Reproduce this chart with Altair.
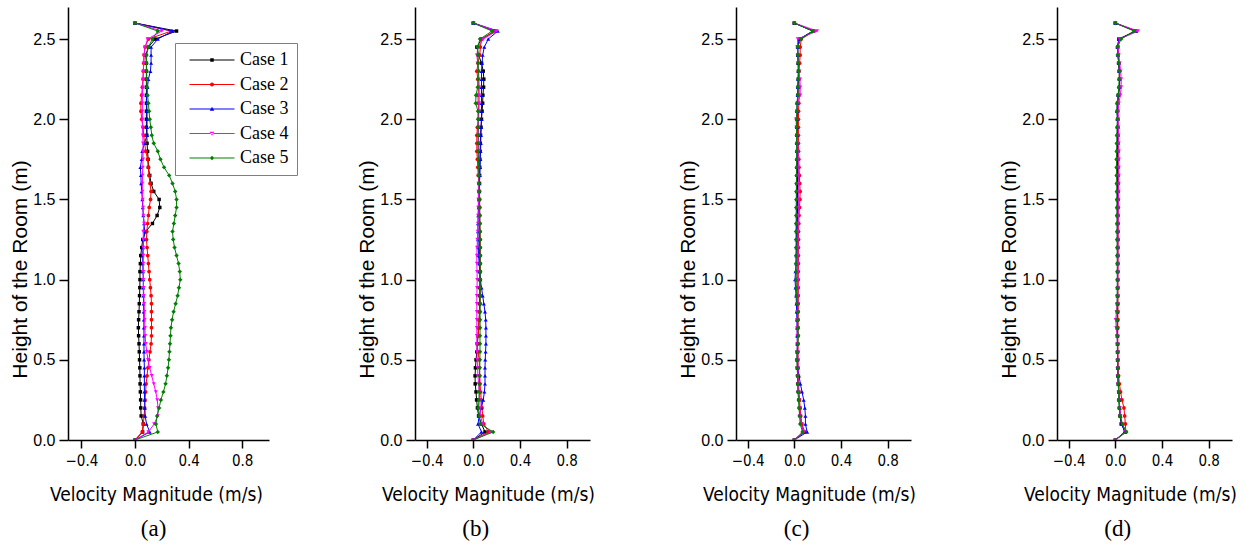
import altair as alt
import pandas as pd

HEIGHTS = [0.00, 0.05, 0.10, 0.15, 0.20, 0.25, 0.30, 0.35, 0.40, 0.45,
           0.50, 0.55, 0.60, 0.65, 0.70, 0.75, 0.80, 0.85, 0.90, 0.95,
           1.00, 1.05, 1.10, 1.15, 1.20, 1.25, 1.30, 1.35, 1.40, 1.45,
           1.50, 1.55, 1.60, 1.65, 1.70, 1.75, 1.80, 1.85, 1.90, 1.95,
           2.00, 2.05, 2.10, 2.15, 2.20, 2.25, 2.30, 2.35, 2.40, 2.45,
           2.50, 2.55, 2.60]

CASES = ["Case 1", "Case 2", "Case 3", "Case 4", "Case 5"]
COLORS = ["#000000", "#ff0000", "#0000ff", "#ff00ff", "#008000"]
SHAPES = ["square", "circle", "triangle-up", "triangle-down", "diamond"]
MARKER_SIZES = [12, 14, 16, 16, 20]
LINE_PATH = "M-4.5,-0.1H4.5V0.1H-4.5Z"
LEGEND_SYMBOLS = [
    LINE_PATH + "M-0.35,-0.35H0.35V0.35H-0.35Z",
    LINE_PATH + "M-0.4,0A0.4,0.4,0,1,1,0.4,0A0.4,0.4,0,1,1,-0.4,0Z",
    LINE_PATH + "M0,-0.45L0.45,0.35H-0.45Z",
    LINE_PATH + "M0,0.45L0.45,-0.35H-0.45Z",
    LINE_PATH + "M0,-0.45L0.45,0L0,0.45L-0.45,0Z",
]
X_TICKS = [-0.4, 0.0, 0.4, 0.8]
Y_TICKS = [0.0, 0.5, 1.0, 1.5, 2.0, 2.5]
PANEL_LABELS = ["(a)", "(b)", "(c)", "(d)"]

# ---------------- panel (a) ----------------
A1 = [0, 0.057, 0.062, 0.046, 0.043, 0.042, 0.040, 0.038, 0.037, 0.036,
      0.034, 0.032, 0.030, 0.027, 0.025, 0.027, 0.030, 0.032, 0.034, 0.036,
      0.037, 0.037, 0.040, 0.043, 0.050, 0.058, 0.080, 0.130, 0.165, 0.185,
      0.180, 0.140, 0.120, 0.110, 0.100, 0.098, 0.094, 0.090, 0.088, 0.085,
      0.085, 0.085, 0.085, 0.085, 0.085, 0.085, 0.085, 0.085, 0.080, 0.100,
      0.150, 0.310, 0]
A2 = [0, 0.054, 0.062, 0.068, 0.072, 0.075, 0.079, 0.083, 0.090, 0.096,
      0.104, 0.112, 0.120, 0.123, 0.123, 0.123, 0.123, 0.123, 0.120, 0.115,
      0.110, 0.105, 0.100, 0.095, 0.090, 0.086, 0.088, 0.094, 0.100, 0.106,
      0.116, 0.120, 0.112, 0.104, 0.100, 0.094, 0.080, 0.072, 0.065, 0.060,
      0.050, 0.044, 0.044, 0.050, 0.055, 0.060, 0.062, 0.065, 0.067, 0.075,
      0.100, 0.270, 0]
A3 = [0, 0.110, 0.086, 0.076, 0.074, 0.072, 0.070, 0.070, 0.070, 0.070,
      0.068, 0.067, 0.067, 0.067, 0.066, 0.066, 0.065, 0.064, 0.063, 0.062,
      0.062, 0.060, 0.058, 0.057, 0.060, 0.064, 0.072, 0.068, 0.062, 0.058,
      0.055, 0.050, 0.046, 0.044, 0.040, 0.050, 0.054, 0.070, 0.090, 0.090,
      0.090, 0.090, 0.088, 0.086, 0.093, 0.100, 0.115, 0.120, 0.120, 0.120,
      0.170, 0.280, 0]
A4 = [0, 0.100, 0.143, 0.170, 0.172, 0.166, 0.155, 0.140, 0.125, 0.110,
      0.097, 0.088, 0.080, 0.076, 0.074, 0.072, 0.070, 0.068, 0.066, 0.064,
      0.062, 0.062, 0.062, 0.062, 0.062, 0.062, 0.062, 0.068, 0.062, 0.060,
      0.057, 0.055, 0.055, 0.056, 0.058, 0.060, 0.060, 0.060, 0.058, 0.056,
      0.055, 0.055, 0.055, 0.055, 0.058, 0.060, 0.062, 0.065, 0.068, 0.075,
      0.094, 0.200, 0]
A5 = [0, 0.170, 0.156, 0.165, 0.180, 0.193, 0.212, 0.228, 0.238, 0.247,
      0.253, 0.257, 0.261, 0.265, 0.268, 0.277, 0.288, 0.303, 0.318, 0.328,
      0.338, 0.334, 0.325, 0.310, 0.295, 0.285, 0.280, 0.290, 0.300, 0.310,
      0.310, 0.300, 0.280, 0.255, 0.217, 0.190, 0.170, 0.140, 0.125, 0.118,
      0.110, 0.105, 0.100, 0.094, 0.090, 0.088, 0.087, 0.086, 0.086, 0.100,
      0.130, 0.170, 0]

# ---------------- panel (b) ----------------
B1 = [0, 0.100, 0.070, 0.045, 0.035, 0.028, 0.023, 0.016, 0.015, 0.018,
      0.023, 0.030, 0.035, 0.040, 0.045, 0.050, 0.052, 0.053, 0.055, 0.055,
      0.056, 0.056, 0.055, 0.054, 0.053, 0.052, 0.052, 0.052, 0.052, 0.052,
      0.052, 0.052, 0.053, 0.054, 0.055, 0.056, 0.058, 0.060, 0.062, 0.066,
      0.070, 0.075, 0.080, 0.082, 0.088, 0.090, 0.085, 0.070, 0.045, 0.030,
      0.070, 0.185, 0]
B2 = [0, 0.130, 0.090, 0.080, 0.075, 0.068, 0.062, 0.058, 0.055, 0.052,
      0.050, 0.040, 0.032, 0.040, 0.045, 0.050, 0.055, 0.058, 0.060, 0.060,
      0.060, 0.060, 0.060, 0.060, 0.060, 0.060, 0.058, 0.056, 0.055, 0.054,
      0.053, 0.050, 0.047, 0.042, 0.038, 0.035, 0.030, 0.030, 0.030, 0.035,
      0.045, 0.045, 0.042, 0.040, 0.045, 0.038, 0.030, 0.040, 0.055, 0.060,
      0.070, 0.185, 0]
B3 = [0, 0.070, 0.040, 0.050, 0.068, 0.085, 0.095, 0.100, 0.100, 0.100,
      0.102, 0.105, 0.108, 0.108, 0.108, 0.106, 0.100, 0.090, 0.080, 0.070,
      0.060, 0.055, 0.050, 0.045, 0.042, 0.040, 0.040, 0.040, 0.042, 0.045,
      0.048, 0.050, 0.052, 0.055, 0.058, 0.060, 0.062, 0.064, 0.065, 0.067,
      0.070, 0.070, 0.070, 0.070, 0.070, 0.070, 0.070, 0.075, 0.080, 0.094,
      0.128, 0.210, 0]
B4 = [0, 0.150, 0.080, 0.060, 0.058, 0.057, 0.050, 0.045, 0.040, 0.036,
      0.033, 0.032, 0.030, 0.030, 0.030, 0.030, 0.030, 0.030, 0.030, 0.032,
      0.033, 0.032, 0.030, 0.030, 0.032, 0.035, 0.038, 0.040, 0.041, 0.042,
      0.043, 0.043, 0.044, 0.044, 0.045, 0.045, 0.045, 0.045, 0.045, 0.045,
      0.045, 0.047, 0.050, 0.050, 0.050, 0.048, 0.045, 0.038, 0.030, 0.040,
      0.085, 0.200, 0]
B5 = [0, 0.170, 0.060, 0.050, 0.043, 0.048, 0.050, 0.052, 0.054, 0.055,
      0.056, 0.057, 0.057, 0.057, 0.058, 0.058, 0.058, 0.058, 0.058, 0.058,
      0.058, 0.058, 0.058, 0.058, 0.057, 0.057, 0.057, 0.056, 0.055, 0.054,
      0.053, 0.052, 0.050, 0.048, 0.046, 0.044, 0.040, 0.040, 0.040, 0.040,
      0.040, 0.040, 0.020, 0.023, 0.037, 0.040, 0.045, 0.040, 0.040, 0.037,
      0.057, 0.160, 0]

# ---------------- panel (c) ----------------
C1 = [0, 0.080, 0.060, 0.050, 0.045, 0.040, 0.035, 0.030, 0.028, 0.025,
      0.024, 0.025, 0.027, 0.028, 0.028, 0.027, 0.027, 0.026, 0.025, 0.024,
      0.023, 0.023, 0.024, 0.025, 0.025, 0.026, 0.026, 0.027, 0.027, 0.028,
      0.028, 0.028, 0.027, 0.027, 0.026, 0.026, 0.025, 0.025, 0.024, 0.024,
      0.024, 0.025, 0.027, 0.030, 0.032, 0.034, 0.035, 0.033, 0.030, 0.030,
      0.045, 0.160, 0]
C2 = [0, 0.090, 0.065, 0.055, 0.050, 0.045, 0.040, 0.037, 0.035, 0.033,
      0.032, 0.032, 0.032, 0.033, 0.033, 0.033, 0.034, 0.034, 0.034, 0.034,
      0.034, 0.034, 0.035, 0.035, 0.035, 0.036, 0.036, 0.038, 0.040, 0.044,
      0.048, 0.050, 0.046, 0.043, 0.040, 0.038, 0.036, 0.035, 0.035, 0.035,
      0.035, 0.036, 0.038, 0.040, 0.040, 0.040, 0.040, 0.045, 0.050, 0.050,
      0.060, 0.170, 0]
C3 = [0, 0.110, 0.095, 0.095, 0.090, 0.080, 0.066, 0.052, 0.040, 0.030,
      0.025, 0.025, 0.025, 0.024, 0.023, 0.022, 0.020, 0.018, 0.015, 0.010,
      0.006, 0.010, 0.015, 0.016, 0.018, 0.018, 0.019, 0.019, 0.020, 0.020,
      0.020, 0.020, 0.021, 0.021, 0.021, 0.022, 0.022, 0.022, 0.022, 0.022,
      0.022, 0.023, 0.025, 0.028, 0.030, 0.033, 0.035, 0.033, 0.030, 0.028,
      0.040, 0.160, 0]
C4 = [0, 0.080, 0.060, 0.050, 0.045, 0.040, 0.035, 0.033, 0.032, 0.031,
      0.030, 0.029, 0.028, 0.027, 0.025, 0.025, 0.028, 0.029, 0.030, 0.030,
      0.030, 0.030, 0.030, 0.030, 0.030, 0.030, 0.030, 0.032, 0.034, 0.036,
      0.037, 0.037, 0.036, 0.036, 0.035, 0.034, 0.032, 0.028, 0.022, 0.018,
      0.015, 0.022, 0.030, 0.050, 0.050, 0.048, 0.040, 0.035, 0.030, 0.025,
      0.030, 0.194, 0]
C5 = [0, 0.070, 0.050, 0.045, 0.040, 0.037, 0.030, 0.030, 0.028, 0.026,
      0.023, 0.025, 0.030, 0.033, 0.030, 0.028, 0.030, 0.025, 0.020, 0.016,
      0.014, 0.014, 0.014, 0.015, 0.015, 0.015, 0.014, 0.015, 0.016, 0.016,
      0.017, 0.017, 0.018, 0.019, 0.020, 0.021, 0.022, 0.021, 0.020, 0.020,
      0.020, 0.022, 0.023, 0.030, 0.030, 0.033, 0.037, 0.035, 0.030, 0.028,
      0.057, 0.157, 0]

# ---------------- panel (d) ----------------
D1 = [0, 0.085, 0.050, 0.040, 0.035, 0.032, 0.030, 0.025, 0.022, 0.021,
      0.020, 0.020, 0.019, 0.018, 0.018, 0.018, 0.019, 0.020, 0.020, 0.020,
      0.020, 0.020, 0.020, 0.020, 0.020, 0.020, 0.020, 0.019, 0.019, 0.019,
      0.019, 0.019, 0.018, 0.018, 0.018, 0.019, 0.019, 0.020, 0.020, 0.020,
      0.020, 0.018, 0.020, 0.025, 0.035, 0.035, 0.033, 0.028, 0.025, 0.020,
      0.030, 0.170, 0]
D2 = [0, 0.090, 0.086, 0.080, 0.074, 0.057, 0.045, 0.035, 0.028, 0.025,
      0.023, 0.022, 0.022, 0.021, 0.021, 0.022, 0.022, 0.022, 0.022, 0.022,
      0.022, 0.022, 0.022, 0.023, 0.023, 0.024, 0.024, 0.025, 0.025, 0.026,
      0.026, 0.026, 0.026, 0.026, 0.025, 0.025, 0.025, 0.024, 0.024, 0.023,
      0.022, 0.020, 0.022, 0.028, 0.036, 0.038, 0.035, 0.030, 0.025, 0.020,
      0.035, 0.180, 0]
D3 = [0, 0.080, 0.055, 0.045, 0.038, 0.033, 0.030, 0.025, 0.022, 0.020,
      0.019, 0.018, 0.018, 0.017, 0.017, 0.017, 0.018, 0.018, 0.018, 0.018,
      0.018, 0.018, 0.018, 0.018, 0.018, 0.018, 0.017, 0.017, 0.017, 0.017,
      0.017, 0.017, 0.017, 0.017, 0.018, 0.018, 0.018, 0.018, 0.018, 0.018,
      0.018, 0.014, 0.018, 0.025, 0.035, 0.036, 0.035, 0.030, 0.022, 0.018,
      0.030, 0.180, 0]
D4 = [0, 0.090, 0.060, 0.045, 0.038, 0.032, 0.028, 0.024, 0.022, 0.021,
      0.020, 0.020, 0.018, 0.015, 0.008, 0.003, 0.010, 0.015, 0.018, 0.020,
      0.020, 0.021, 0.022, 0.022, 0.022, 0.022, 0.022, 0.023, 0.024, 0.025,
      0.027, 0.028, 0.029, 0.030, 0.030, 0.030, 0.030, 0.029, 0.028, 0.026,
      0.025, 0.025, 0.030, 0.043, 0.050, 0.050, 0.045, 0.038, 0.030, 0.025,
      0.035, 0.194, 0]
D5 = [0, 0.094, 0.060, 0.040, 0.033, 0.030, 0.030, 0.026, 0.022, 0.020,
      0.019, 0.018, 0.018, 0.017, 0.016, 0.016, 0.016, 0.016, 0.016, 0.017,
      0.017, 0.017, 0.017, 0.016, 0.016, 0.015, 0.015, 0.015, 0.014, 0.014,
      0.014, 0.013, 0.012, 0.011, 0.010, 0.010, 0.011, 0.012, 0.013, 0.015,
      0.018, 0.014, 0.014, 0.023, 0.030, 0.033, 0.037, 0.030, 0.020, 0.018,
      0.050, 0.160, 0]

PANELS = [[A1, A2, A3, A4, A5], [B1, B2, B3, B4, B5],
          [C1, C2, C3, C4, C5], [D1, D2, D3, D4, D5]]

SANS = "Liberation Sans"
TAHOMA_LIKE = "DejaVu Sans Condensed, Liberation Sans, sans-serif"
SERIF = "Liberation Serif"


def panel_frame(series):
    rows = []
    for ci, (case, vals) in enumerate(zip(CASES, series)):
        for h, v in zip(HEIGHTS, vals):
            rows.append({"case": case, "k": ci, "h": h, "v": v})
    return pd.DataFrame(rows)


def make_panel(series, label, width, title_x, with_legend):
    df = panel_frame(series)
    x = alt.X("v:Q",
              scale=alt.Scale(domain=[-0.5, 1.0], nice=False, zero=False),
              axis=alt.Axis(values=X_TICKS, format=".1f",
                            title="Velocity Magnitude (m/s)", titleX=title_x,
                            labelFont=TAHOMA_LIKE, labelFontSize=15,
                            titleFont=TAHOMA_LIKE, titleFontSize=19,
                            titleFontWeight="normal", titlePadding=17,
                            tickSize=8, labelPadding=5, grid=False,
                            domainColor="#000000", tickColor="#000000",
                            domainWidth=1.5, tickWidth=1.5,
                            labelColor="#000000", titleColor="#000000"))
    y = alt.Y("h:Q",
              scale=alt.Scale(domain=[0, 2.7], nice=False, zero=False),
              axis=alt.Axis(values=Y_TICKS, format=".1f",
                            title="Height of the Room (m)", titleY=262,
                            labelFont=SANS, labelFontSize=16,
                            titleFont=SANS, titleFontSize=21,
                            titleFontWeight="normal", titlePadding=2,
                            tickSize=9, labelPadding=4, grid=False,
                            domainColor="#000000", tickColor="#000000",
                            domainWidth=1.5, tickWidth=1.5,
                            labelColor="#000000", titleColor="#000000"))
    color = alt.Color("case:N", scale=alt.Scale(domain=CASES, range=COLORS),
                      legend=None)
    shape = alt.Shape("case:N", scale=alt.Scale(domain=CASES, range=SHAPES),
                      legend=None)
    base = alt.Chart(df)
    layers = []
    for k in range(len(CASES)):
        sub = base.transform_filter(f"datum.k == {k}")
        layers.append(sub.mark_line(strokeWidth=1, clip=True).encode(
            x=x, y=y, color=color, order="h:Q"))
        layers.append(sub.mark_point(filled=True, size=MARKER_SIZES[k],
                                     opacity=1, clip=True).encode(
            x=x, y=y, color=color, shape=shape))
    if with_legend:
        leg = dict(orient="none", legendX=107, legendY=36, title=None,
                   symbolSize=100, rowPadding=6.5, padding=8,
                   symbolOffset=20, labelOffset=19,
                   labelFont=SERIF, labelFontSize=18, labelColor="#000000",
                   strokeColor="#7f7f7f", fillColor="#ffffff",
                   symbolStrokeWidth=0, labelLimit=200)
        phantom = base.mark_point(filled=True, opacity=1, strokeWidth=0).encode(
            x=x, y=y,
            color=alt.Color("case:N", scale=alt.Scale(domain=CASES, range=COLORS),
                            legend=alt.Legend(**leg)),
            shape=alt.Shape("case:N",
                            scale=alt.Scale(domain=CASES, range=LEGEND_SYMBOLS),
                            legend=alt.Legend(**leg)),
        ).transform_filter("datum.h < 0")
        layers.append(phantom)
    return alt.layer(*layers).resolve_scale(
        color="independent", shape="independent"
    ).properties(
        width=width, height=433,
        title=alt.TitleParams(text=label, orient="bottom", anchor="middle",
                              frame="bounds", font=SERIF, fontSize=23,
                              fontWeight="normal", color="#000000", offset=14),
    )


panels = []
for i, series in enumerate(PANELS):
    w = 201 if i == 0 else 175
    tx = 88 if i == 0 else 73
    panels.append(make_panel(series, PANEL_LABELS[i], w, tx, i == 0))

chart = alt.hconcat(*panels, spacing=146, bounds="flush").properties(
    padding={"left": 9, "top": 7, "right": 0, "bottom": 0},
    background="#ffffff",
).configure_view(stroke=None)

chart.save("out.html", embed_options={"renderer": "svg", "actions": False})
